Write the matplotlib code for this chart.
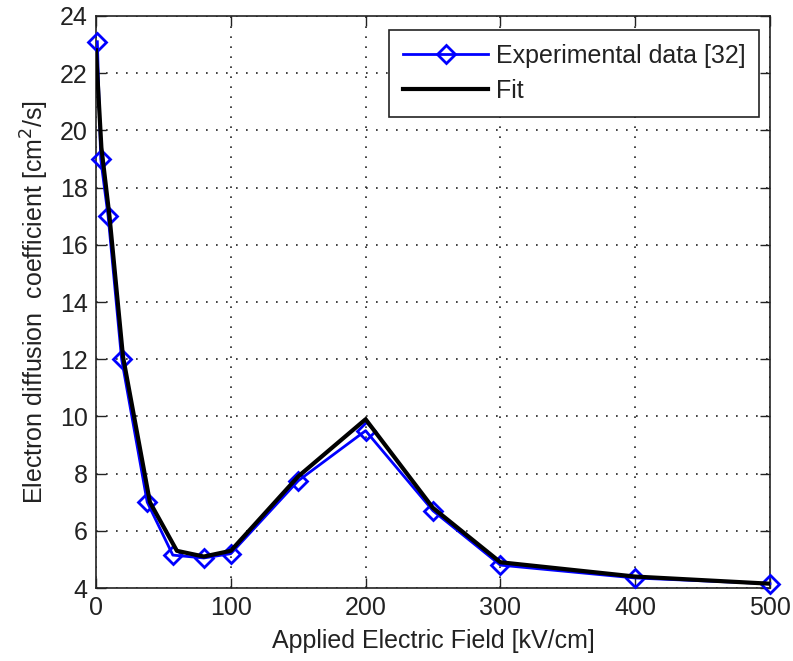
import matplotlib
matplotlib.use("Agg")
import matplotlib.pyplot as plt

# Measured electron diffusion coefficient vs. applied field
field_exp = [1, 3.5, 9, 19, 38, 57, 80, 100, 150, 200, 250, 300, 400, 500]
diff_exp = [23.1, 19.0, 17.0, 12.0, 7.0, 5.15, 5.05, 5.2, 7.75, 9.5, 6.7, 4.8, 4.35, 4.15]

# Fitted curve
field_fit = [0, 4, 10, 20, 40, 60, 80, 100, 150, 200, 250, 300, 400, 500]
diff_fit = [22.8, 19.4, 17.0, 12.1, 7.0, 5.3, 5.1, 5.3, 7.9, 9.9, 6.8, 4.9, 4.4, 4.15]

x_ticks = [0, 100, 200, 300, 400, 500]
y_ticks = [4, 6, 8, 10, 12, 14, 16, 18, 20, 22, 24]

plt.rcParams['font.family'] = ['Liberation Sans', 'DejaVu Sans']
FS = 18

fig = plt.figure(figsize=(7.93, 6.61), dpi=100)
ax = fig.add_axes([96/793, (661-588)/661, (770-96)/793, (588-16)/661])

ax.plot(field_exp, diff_exp, color='#0000ff', lw=2.0, marker='D', markersize=9,
        markerfacecolor='none', markeredgecolor='#0000ff', markeredgewidth=2.0,
        label='Experimental data [32]', zorder=3, clip_on=False)
ax.plot(field_fit, diff_fit, color='black', lw=3.0, label='Fit', zorder=4)

ax.set_xlim(0, 500)
ax.set_ylim(4, 24)
ax.set_xticks(x_ticks)
ax.set_yticks(y_ticks)
ax.tick_params(direction='in', length=7, width=1, top=True, right=True,
               labelsize=FS, colors='#222222', pad=6)
for s in ax.spines.values():
    s.set_color('#222222')
    s.set_linewidth(1.2)

ax.grid(True, color='#222222', linestyle=(0, (1, 5)), linewidth=1.2)
ax.set_axisbelow(True)

ax.set_xlabel('Applied Electric Field [kV/cm]', fontsize=FS, color='#222222', labelpad=6)
ax.set_ylabel('Electron diffusion  coefficient [cm$^2$/s]', fontsize=FS, color='#222222', labelpad=6)

leg = ax.legend(loc='upper right', bbox_to_anchor=((759-96)/674, (588-30)/572),
                borderaxespad=0, fancybox=False, framealpha=1, edgecolor='#222222',
                fontsize=FS, handlelength=3.4, handletextpad=0.3, labelspacing=0.45,
                borderpad=0.55)
leg.get_frame().set_linewidth(1.2)
for t in leg.get_texts():
    t.set_color('#222222')

fig.savefig('out.png', dpi=100, facecolor='white')
